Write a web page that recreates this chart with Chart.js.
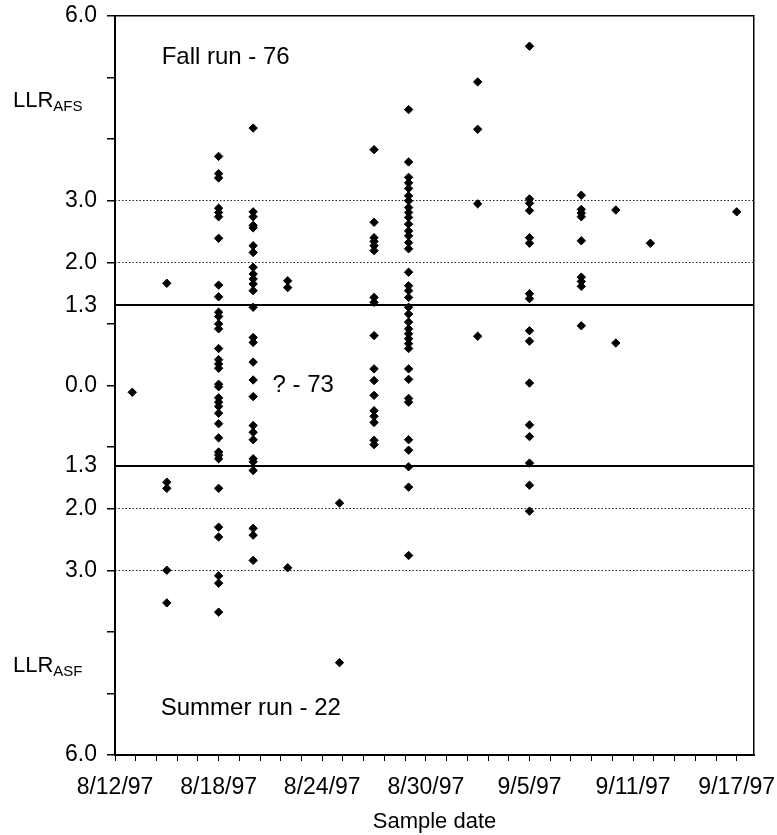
<!DOCTYPE html>
<html>
<head>
<meta charset="utf-8">
<script src="https://cdn.jsdelivr.net/npm/chart.js@4.4.1/dist/chart.umd.min.js"></script>
<style>
  body { margin: 0; background: #fff; }
  canvas { display: block; }
</style>
</head>
<body>
<canvas id="llrChart" width="777" height="835"></canvas>
<script>
// sample dates and LLR values (AFS positive, ASF negative)
const sampleDates = ['8/13/97', '8/15/97', '8/18/97', '8/20/97', '8/22/97', '8/25/97', '8/27/97',
  '8/29/97', '9/2/97', '9/5/97', '9/8/97', '9/10/97', '9/12/97', '9/17/97']

const llr0813 = [-0.11]
const llr0815 = [1.66, -1.57, -1.67, -3.0, -3.53]
const llr0818 = [3.72, 3.44, 3.37, 2.88, 2.81, 2.74, 2.39, 1.63, 1.44, 1.19, 1.12, 1.0, 0.92, 0.6, 0.42,
  0.35, 0.28, 0.02, -0.02, -0.2, -0.27, -0.34, -0.45, -0.62, -0.85, -1.08, -1.13, -1.19, -1.67,
  -2.3, -2.46, -3.09, -3.21, -3.68]
const llr0820 = [4.18, 2.82, 2.74, 2.6, 2.56, 2.27, 2.16, 1.92, 1.81, 1.73, 1.65, 1.54, 1.27, 0.78, 0.7,
  0.38, 0.09, -0.18, -0.65, -0.76, -0.88, -1.19, -1.24, -1.38, -2.32, -2.43, -2.84]
const llr0822 = [1.7, 1.59, -2.96]
const llr0825 = [-1.91, -4.5]
const llr0827 = [3.83, 2.65, 2.4, 2.34, 2.27, 2.19, 1.43, 1.35, 0.81, 0.27, 0.08, -0.16, -0.41, -0.5,
  -0.6, -0.89, -0.96]
const llr0829 = [4.48, 3.63, 3.38, 3.29, 3.2, 3.08, 3.0, 2.89, 2.81, 2.73, 2.62, 2.51, 2.43, 2.32, 2.22,
  1.84, 1.62, 1.54, 1.43, 1.27, 1.16, 1.03, 0.92, 0.84, 0.76, 0.68, 0.6, 0.27, 0.1, -0.21, -0.27,
  -0.88, -1.05, -1.32, -1.65, -2.76]
const llr0902 = [4.93, 4.16, 2.95, 0.8]
const llr0905 = [5.51, 3.03, 2.96, 2.84, 2.4, 2.31, 1.49, 1.41, 0.89, 0.72, 0.04, -0.64, -0.83, -1.26,
  -1.62, -2.04]
const llr0908 = [3.09, 2.86, 2.8, 2.74, 2.35, 1.76, 1.69, 1.61, 0.97]
const llr0910 = [2.85, 0.69]
const llr0912 = [2.31]
const llr0917 = [2.82]

const llrByDate = [llr0813, llr0815, llr0818, llr0820, llr0822, llr0825, llr0827,
  llr0829, llr0902, llr0905, llr0908, llr0910, llr0912, llr0917]

// axis ticks
const dateLabels = ['8/12/97', '8/18/97', '8/24/97', '8/30/97', '9/5/97', '9/11/97', '9/17/97']
const yLabeledTicks = [6, 3, 2, 1.3, 0, -1.3, -2, -3, -6]
const yPlainTicks = [5, 4, 1, -1, -4, -5]
const yDottedLines = [3, 2, -2, -3]

// text on the plot
const runNotes = [
  { text: 'Fall run - 76', day: 2.7, llr: 5.22 },
  { text: '? - 73', day: 9.12, llr: -0.11 },
  { text: 'Summer run - 22', day: 2.65, llr: -5.35 },
]
const sideLabels = [
  { sub: 'AFS', llr: 4.52 },
  { sub: 'ASF', llr: -4.65 },
]

const FONT = "'Liberation Sans', Arial, sans-serif"
const startDay = Date.UTC(1997, 7, 12)

function dayOf(s) {
  const [m, d, y] = s.split('/').map(Number)
  return (Date.UTC(1900 + y, m - 1, d) - startDay) / 86400000
}

const points = []
sampleDates.forEach((d, i) => {
  llrByDate[i].forEach(v => points.push({ x: dayOf(d), y: v }))
})

const isRunLine = v => Math.abs(Math.abs(v) - 1.3) < 1e-9

const textPlugin = {
  id: 'runText',
  afterDraw(chart) {
    const { ctx, scales: { x, y } } = chart
    ctx.save()
    ctx.fillStyle = '#000'
    ctx.textBaseline = 'alphabetic'
    ctx.textAlign = 'left'
    ctx.font = '24px ' + FONT
    runNotes.forEach(n => {
      ctx.fillText(n.text, x.getPixelForValue(n.day), y.getPixelForValue(n.llr))
    })
    sideLabels.forEach(l => {
      const by = y.getPixelForValue(l.llr)
      ctx.font = '22px ' + FONT
      ctx.fillText('LLR', 13, by)
      const w = ctx.measureText('LLR').width
      ctx.font = '15px ' + FONT
      ctx.fillText(l.sub, 13 + w, by + 4)
    })
    ctx.restore()
  }
}

Chart.defaults.font.family = FONT
Chart.defaults.color = '#000'

new Chart(document.getElementById('llrChart'), {
  type: 'scatter',
  data: {
    datasets: [{
      data: points,
      pointStyle: 'rectRot',
      pointRadius: 4.2,
      pointHoverRadius: 4.2,
      borderWidth: 1,
      backgroundColor: '#000',
      borderColor: '#000',
    }]
  },
  options: {
    responsive: false,
    animation: false,
    devicePixelRatio: 1,
    layout: { padding: { top: 16, right: 23, left: 0, bottom: 0 } },
    plugins: { legend: { display: false }, tooltip: { enabled: false } },
    scales: {
      x: {
        type: 'linear',
        min: 0,
        max: 37,
        afterBuildTicks: scale => {
          scale.ticks = Array.from({ length: 31 }, (_, i) => ({ value: i * 1.2 }))
        },
        afterFit: scale => {
          scale.height = 80
          scale.paddingLeft = 0
          scale.paddingRight = 0
        },
        ticks: {
          autoSkip: false,
          maxRotation: 0,
          padding: 13,
          font: { size: 23 },
          callback: (v, i) => (i % 5 === 0 ? dateLabels[i / 5] : ''),
        },
        grid: { drawOnChartArea: false, tickLength: 6, color: '#000', tickWidth: 1 },
        border: { display: true, color: '#000', width: 2 },
        title: { display: true, text: 'Sample date', font: { size: 22 }, padding: { top: 0, bottom: 0 } },
      },
      y: {
        type: 'linear',
        min: -6,
        max: 6,
        afterBuildTicks: scale => {
          scale.ticks = yLabeledTicks.concat(yPlainTicks).sort((a, b) => a - b).map(v => ({ value: v }))
        },
        afterFit: scale => {
          scale.width = 115
          scale.paddingTop = 0
          scale.paddingBottom = 0
        },
        ticks: {
          autoSkip: false,
          padding: 10,
          font: { size: 23 },
          callback: v => (yLabeledTicks.includes(v) ? Math.abs(v).toFixed(1) : ''),
        },
        grid: {
          tickLength: 8,
          tickWidth: 1.5,
          color: c => (c.tick && (isRunLine(c.tick.value) || c.tick.value === 6) ? '#000' : 'rgba(0,0,0,0)'),
          lineWidth: c => (c.tick && isRunLine(c.tick.value) ? 2 : 1.5),
          tickColor: c => (c.tick && isRunLine(c.tick.value) ? 'rgba(0,0,0,0)' : '#000'),
        },
        border: { display: true, color: '#000', width: 2 },
      },
      yDots: {
        type: 'linear',
        position: 'right',
        min: -6,
        max: 6,
        afterBuildTicks: scale => {
          scale.ticks = yDottedLines.map(v => ({ value: v }))
        },
        afterFit: scale => {
          scale.width = 0
          scale.paddingTop = 0
          scale.paddingBottom = 0
        },
        ticks: { display: false },
        grid: { drawTicks: false, color: '#222', lineWidth: 1 },
        border: { display: true, color: '#000', width: 1.5, dash: [1.5, 2] },
      },
    },
  },
  plugins: [textPlugin],
})
</script>
</body>
</html>
